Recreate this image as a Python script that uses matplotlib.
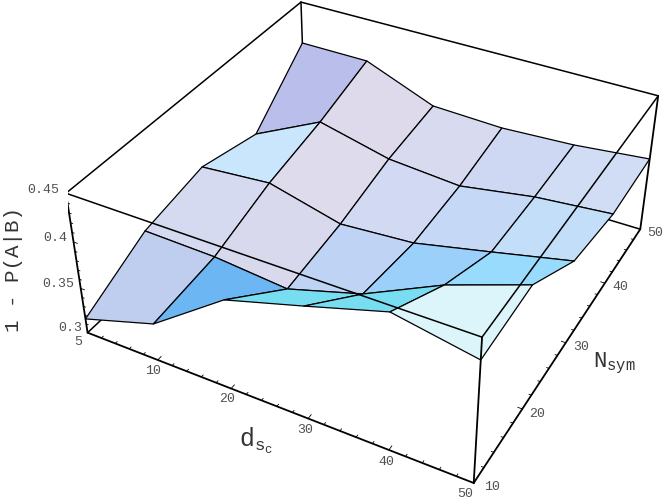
import numpy as np
import matplotlib
matplotlib.use("Agg")
import matplotlib.pyplot as plt

# dsc values sit on an evenly spaced index axis, as in the original list plot
DSC = [5, 10, 20, 30, 40, 50]
NSYM = [10, 20, 30, 40, 50]
Z_TICKS = [0.3, 0.35, 0.4, 0.45]

# 1 - P(A|B), one row per Nsym, one column per dsc
ROW_N10 = [0.3158, 0.3405, 0.3962, 0.4195, 0.4436, 0.4281]
ROW_N20 = [0.3497, 0.3478, 0.3403, 0.3639, 0.4024, 0.4314]
ROW_N30 = [0.3633, 0.3697, 0.3492, 0.3547, 0.3722, 0.3902]
ROW_N40 = [0.3466, 0.3836, 0.3648, 0.3586, 0.3715, 0.3784]
ROW_N50 = [0.4034, 0.4031, 0.3725, 0.3696, 0.3734, 0.3814]

# facet colours (Mathematica lighting), one row per Nsym interval
FACE_N10 = ["#BFCDEE", "#6CB6F3", "#79DDF2", "#79DDF2", "#DCF5FB"]
FACE_N20 = ["#D5DAF0", "#D9D9EE", "#BFD4F5", "#9BD0FB", "#99DBFD"]
FACE_N30 = ["#C9E6FC", "#DEDCEC", "#D2D9F2", "#C5D9F7", "#C3DEF9"]
FACE_N40 = ["#B9BFEA", "#DEDAEB", "#D8DBF0", "#CFD8F3", "#D0DDF5"]

plt.rcParams["mathtext.fontset"] = "custom"
plt.rcParams["mathtext.tt"] = "Liberation Mono"
plt.rcParams["mathtext.rm"] = "Liberation Mono"

W, H = 664, 500
fig = plt.figure(figsize=(W / 100, H / 100), dpi=100)
# axes box chosen so the projected cube lands where it does in the reference
side = 600.8
ax = fig.add_axes([68.1 / W, -21.2 / H, side / W, side / H], projection="3d",
                  computed_zorder=False)
ax.set_axis_off()
xmax = len(DSC) - 1
ymin, ymax = NSYM[0], NSYM[-1]
zmin, zmax = Z_TICKS[0], Z_TICKS[-1]
ax.set_xlim(0, xmax)
ax.set_ylim(ymin, ymax)
ax.set_zlim(zmin, zmax)
ax.view_init(36.2176, -61.6314, -0.022)
ax.set_proj_type("persp", focal_length=0.44676)
ax.set_box_aspect((1, 1.0005, 0.40135))

X, Y = np.meshgrid(np.arange(len(DSC)), NSYM)
Z = np.array([ROW_N10, ROW_N20, ROW_N30, ROW_N40, ROW_N50])
faces = np.array([matplotlib.colors.to_rgba_array(r)
                  for r in [FACE_N10, FACE_N20, FACE_N30, FACE_N40]])


def edge(p, q, zorder, lw=1.1):
    ax.plot([p[0], q[0]], [p[1], q[1]], [p[2], q[2]], color="black", lw=lw,
            zorder=zorder, solid_capstyle="round")


# box edges behind the surface
edge((0, ymin, zmin), (0, ymax, zmin), 1)
edge((0, ymax, zmin), (xmax, ymax, zmin), 1)
edge((0, ymax, zmin), (0, ymax, zmax), 1)
edge((0, ymin, zmax), (0, ymax, zmax), 1)
edge((0, ymax, zmax), (xmax, ymax, zmax), 1)

ax.plot_surface(X, Y, Z, rstride=1, cstride=1, facecolors=faces, shade=False,
                edgecolor="black", linewidth=0.9, zorder=2)

# box edges in front
edge((0, ymin, zmax), (xmax, ymin, zmax), 3)
edge((xmax, ymin, zmax), (xmax, ymax, zmax), 3)
edge((0, ymin, zmin), (0, ymin, zmax), 3, 1.3)
edge((xmax, ymin, zmin), (xmax, ymin, zmax), 3, 1.3)
edge((xmax, ymax, zmin), (xmax, ymax, zmax), 3, 1.3)
edge((0, ymin, zmin), (xmax, ymin, zmin), 3, 1.3)
edge((xmax, ymin, zmin), (xmax, ymax, zmin), 3, 1.3)

# ticks point inward and stay very short
for i in range(len(DSC) - 1):
    for k in range(1 if i == 0 else 0, 5):
        t = i + k / 5
        edge((t, ymin, zmin), (t, ymin + (0.55 if k == 0 else 0.3), zmin), 3, 0.6)
for n in range(len(NSYM) - 1):
    for k in range(1 if n == 0 else 0, 5):
        t = NSYM[n] + 2 * k
        edge((xmax, t, zmin), (xmax - (0.055 if k == 0 else 0.03), t, zmin), 3, 0.6)
for n in range(len(Z_TICKS) - 1):
    for k in range(1 if n == 0 else 0, 5):
        t = Z_TICKS[n] + 0.01 * k
        edge((0, ymin, t), (0.055 if k == 0 else 0.03, ymin, t), 3, 0.6)


def label(x, y, s, **kw):
    kw.setdefault("family", "Liberation Mono")
    kw.setdefault("color", "#505050")
    kw.setdefault("fontsize", 9.5)
    fig.text(x / W, 1 - y / H, s, ha="center", va="center", **kw)


for s, x, y in [("0.45", 43, 190), ("0.4", 55, 238), ("0.35", 58, 284), ("0.3", 70, 328)]:
    label(x, y, s)
for v, x, y in zip(DSC, [78, 153, 227, 305, 386, 465], [342, 371, 399, 430, 462, 494]):
    label(x, y, str(v))
for v, x, y in zip(NSYM, [492, 537, 581, 620, 655], [487, 414, 347, 287, 233]):
    label(x, y, str(v))

label(14, 270, "1 - P(A|B)", rotation=90, fontsize=15, color="#333333")
label(256, 441, r"$\mathtt{d_{s_c}}$", fontsize=18, color="#333333")
label(614, 363, r"$\mathtt{N_{sym}}$", fontsize=16, color="#333333")

fig.savefig("out.png", dpi=100)
